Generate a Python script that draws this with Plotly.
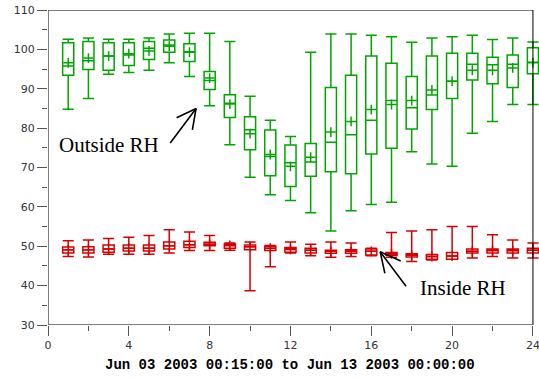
import plotly.graph_objects as go

hours = list(range(1, 25))

# Outside RH (green)
out_hi = [102.6, 102.9, 102.6, 102.6, 102.9, 103.9, 104.1, 104.1, 102.0, 88.1, 82.0, 77.9,
          99.3, 103.9, 103.9, 103.6, 103.2, 101.8, 102.9, 103.2, 103.6, 102.5, 102.9, 101.9]
out_q3 = [101.7, 102.0, 101.7, 101.7, 102.0, 102.4, 101.4, 94.4, 88.5, 82.9, 79.5, 75.7,
          76.1, 90.3, 93.4, 98.3, 96.5, 93.1, 98.3, 99.0, 99.0, 98.0, 98.6, 100.4]
out_med = [95.8, 97.1, 98.3, 98.6, 100.3, 101.1, 99.4, 92.1, 86.3, 79.6, 72.8, 71.2,
           71.4, 76.4, 78.3, 82.0, 87.0, 85.2, 88.4, 91.9, 96.2, 96.1, 96.2, 96.7]
out_q1 = [93.4, 94.9, 94.7, 95.9, 97.4, 99.3, 96.9, 89.8, 82.7, 74.5, 67.9, 65.2,
          67.8, 68.9, 68.4, 73.4, 74.9, 79.8, 84.7, 87.5, 92.2, 91.3, 90.3, 93.8]
out_lo = [84.8, 87.5, 93.7, 94.1, 94.7, 96.6, 93.1, 85.7, 75.8, 67.5, 63.1, 61.6,
          58.5, 53.9, 59.0, 60.6, 61.2, 74.0, 70.9, 70.3, 78.7, 81.7, 86.0, 86.0]
out_mean = [96.6, 97.8, 98.3, 98.9, 99.6, 100.8, 99.3, 92.7, 86.1, 78.6, 73.3, 70.3,
            72.6, 79.0, 81.7, 84.7, 86.0, 87.0, 89.7, 91.9, 94.7, 94.7, 95.3, 96.6]

# Inside RH (red)
in_hi = [51.4, 51.6, 52.0, 52.3, 52.7, 54.2, 53.6, 52.7, 50.8, 51.1, 50.2, 51.1,
         50.5, 51.1, 50.8, 49.5, 53.5, 53.9, 54.2, 55.0, 55.0, 52.9, 51.6, 50.8]
in_q3 = [49.8, 49.9, 50.3, 50.3, 50.3, 51.1, 51.3, 51.0, 50.6, 50.3, 50.0, 49.7,
         49.5, 49.0, 49.1, 49.3, 48.4, 48.1, 47.9, 48.4, 49.3, 49.3, 49.3, 49.5]
in_med = [49.1, 49.1, 49.3, 49.5, 49.5, 50.1, 50.4, 50.5, 50.2, 49.9, 49.5, 49.3,
          49.0, 48.7, 48.7, 48.7, 48.1, 47.7, 47.4, 47.5, 48.7, 48.9, 48.9, 49.0]
in_q1 = [48.3, 48.3, 48.5, 48.8, 48.8, 49.3, 49.7, 50.1, 49.5, 49.1, 48.9, 48.5,
         48.3, 48.2, 48.2, 47.8, 47.7, 47.3, 46.7, 46.7, 48.3, 48.3, 48.3, 48.3]
in_lo = [47.4, 47.3, 48.0, 48.0, 48.0, 48.3, 48.9, 48.9, 49.0, 38.7, 44.8, 48.3,
         47.6, 47.2, 47.4, 47.6, 47.2, 46.1, 46.5, 46.7, 47.0, 47.4, 47.0, 47.0]
in_mean = [49.1, 49.1, 49.3, 49.5, 49.5, 50.1, 50.4, 50.5, 50.2, 49.9, 49.5, 49.2,
           49.0, 48.7, 48.7, 48.7, 48.1, 47.7, 47.4, 47.5, 48.7, 48.9, 48.9, 49.0]

x_title = "Jun 03 2003 00:15:00 to Jun 13 2003 00:00:00"

GREEN = "rgb(0,165,0)"
RED = "rgb(215,0,0)"

fig = go.Figure()


def add_box(lo, q1, med, q3, hi, mean, color):
    fig.add_trace(go.Box(
        x=hours, q1=q1, median=med, q3=q3, lowerfence=lo, upperfence=hi,
        width=0.55, whiskerwidth=1, boxpoints=False,
        line=dict(color=color, width=1.5), fillcolor="rgba(0,0,0,0)",
        hoverinfo="skip", showlegend=False))
    fig.add_trace(go.Scatter(
        x=hours, y=mean, mode="markers", showlegend=False, hoverinfo="skip",
        marker=dict(symbol="cross-thin", size=7, line=dict(color=color, width=1.5))))


add_box(out_lo, out_q1, out_med, out_q3, out_hi, out_mean, GREEN)
add_box(in_lo, in_q1, in_med, in_q3, in_hi, in_mean, RED)

# frame
fig.add_shape(type="line", x0=0, x1=24, y0=110, y1=110, xref="x", yref="y",
              line=dict(color="black", width=1))
fig.add_shape(type="line", x0=24, x1=24, y0=30, y1=110, xref="x", yref="y",
              line=dict(color="black", width=1))
fig.add_shape(type="line", x0=0, x1=0, y0=30, y1=110, xref="x", yref="y",
              line=dict(color="#555", width=1.5))
fig.add_shape(type="line", x0=0, x1=24, y0=30, y1=30, xref="x", yref="y",
              line=dict(color="#555", width=1.5))


def arrow(hx, hy, parts):
    for ax, ay in parts:
        fig.add_annotation(x=hx, y=hy, xref="x", yref="y", ax=ax, ay=ay,
                           axref="pixel", ayref="pixel", text="", showarrow=True,
                           arrowhead=0, arrowwidth=1.6, arrowcolor="black",
                           standoff=0, startstandoff=0)


arrow(7.33, 85.0, [(-27, 36), (-21, 10), (-4, 23)])
arrow(16.44, 48.6, [(27, 36), (22, 10), (5, 23)])

fig.add_annotation(x=3.02, y=75.6, xref="x", yref="y", text="Outside RH",
                   showarrow=False, font=dict(family="Liberation Serif", size=21, color="black"))
fig.add_annotation(x=20.52, y=39.4, xref="x", yref="y", text="Inside RH",
                   showarrow=False, font=dict(family="Liberation Serif", size=21, color="black"))
fig.add_annotation(x=12, y=0, xref="x", yref="paper", yanchor="middle", yshift=-40,
                   text="<b>" + x_title + "</b>", showarrow=False,
                   font=dict(family="Liberation Mono", size=14, color="black"))

tickfont = dict(family="DejaVu Sans", size=11, color="#333")
fig.update_layout(
    width=539, height=379,
    margin=dict(l=48, r=0, t=10, b=54),
    paper_bgcolor="white", plot_bgcolor="white",
    boxmode="overlay", showlegend=False,
    xaxis=dict(range=[0, 24.3], tick0=0, dtick=4, ticks="outside", ticklen=10,
               tickcolor="#555", tickwidth=1, showgrid=False, zeroline=False,
               showline=False, tickfont=tickfont, ticklabeloverflow="allow",
               minor=dict(dtick=2, ticks="outside", ticklen=5, tickcolor="#555", showgrid=False)),
    yaxis=dict(range=[30, 110], tick0=30, dtick=10, ticks="outside", ticklen=10,
               tickcolor="#555", tickwidth=1, showgrid=False, zeroline=False,
               showline=False, tickfont=tickfont,
               minor=dict(dtick=5, ticks="outside", ticklen=5, tickcolor="#555", showgrid=False)),
)

fig.write_html("out.html")
